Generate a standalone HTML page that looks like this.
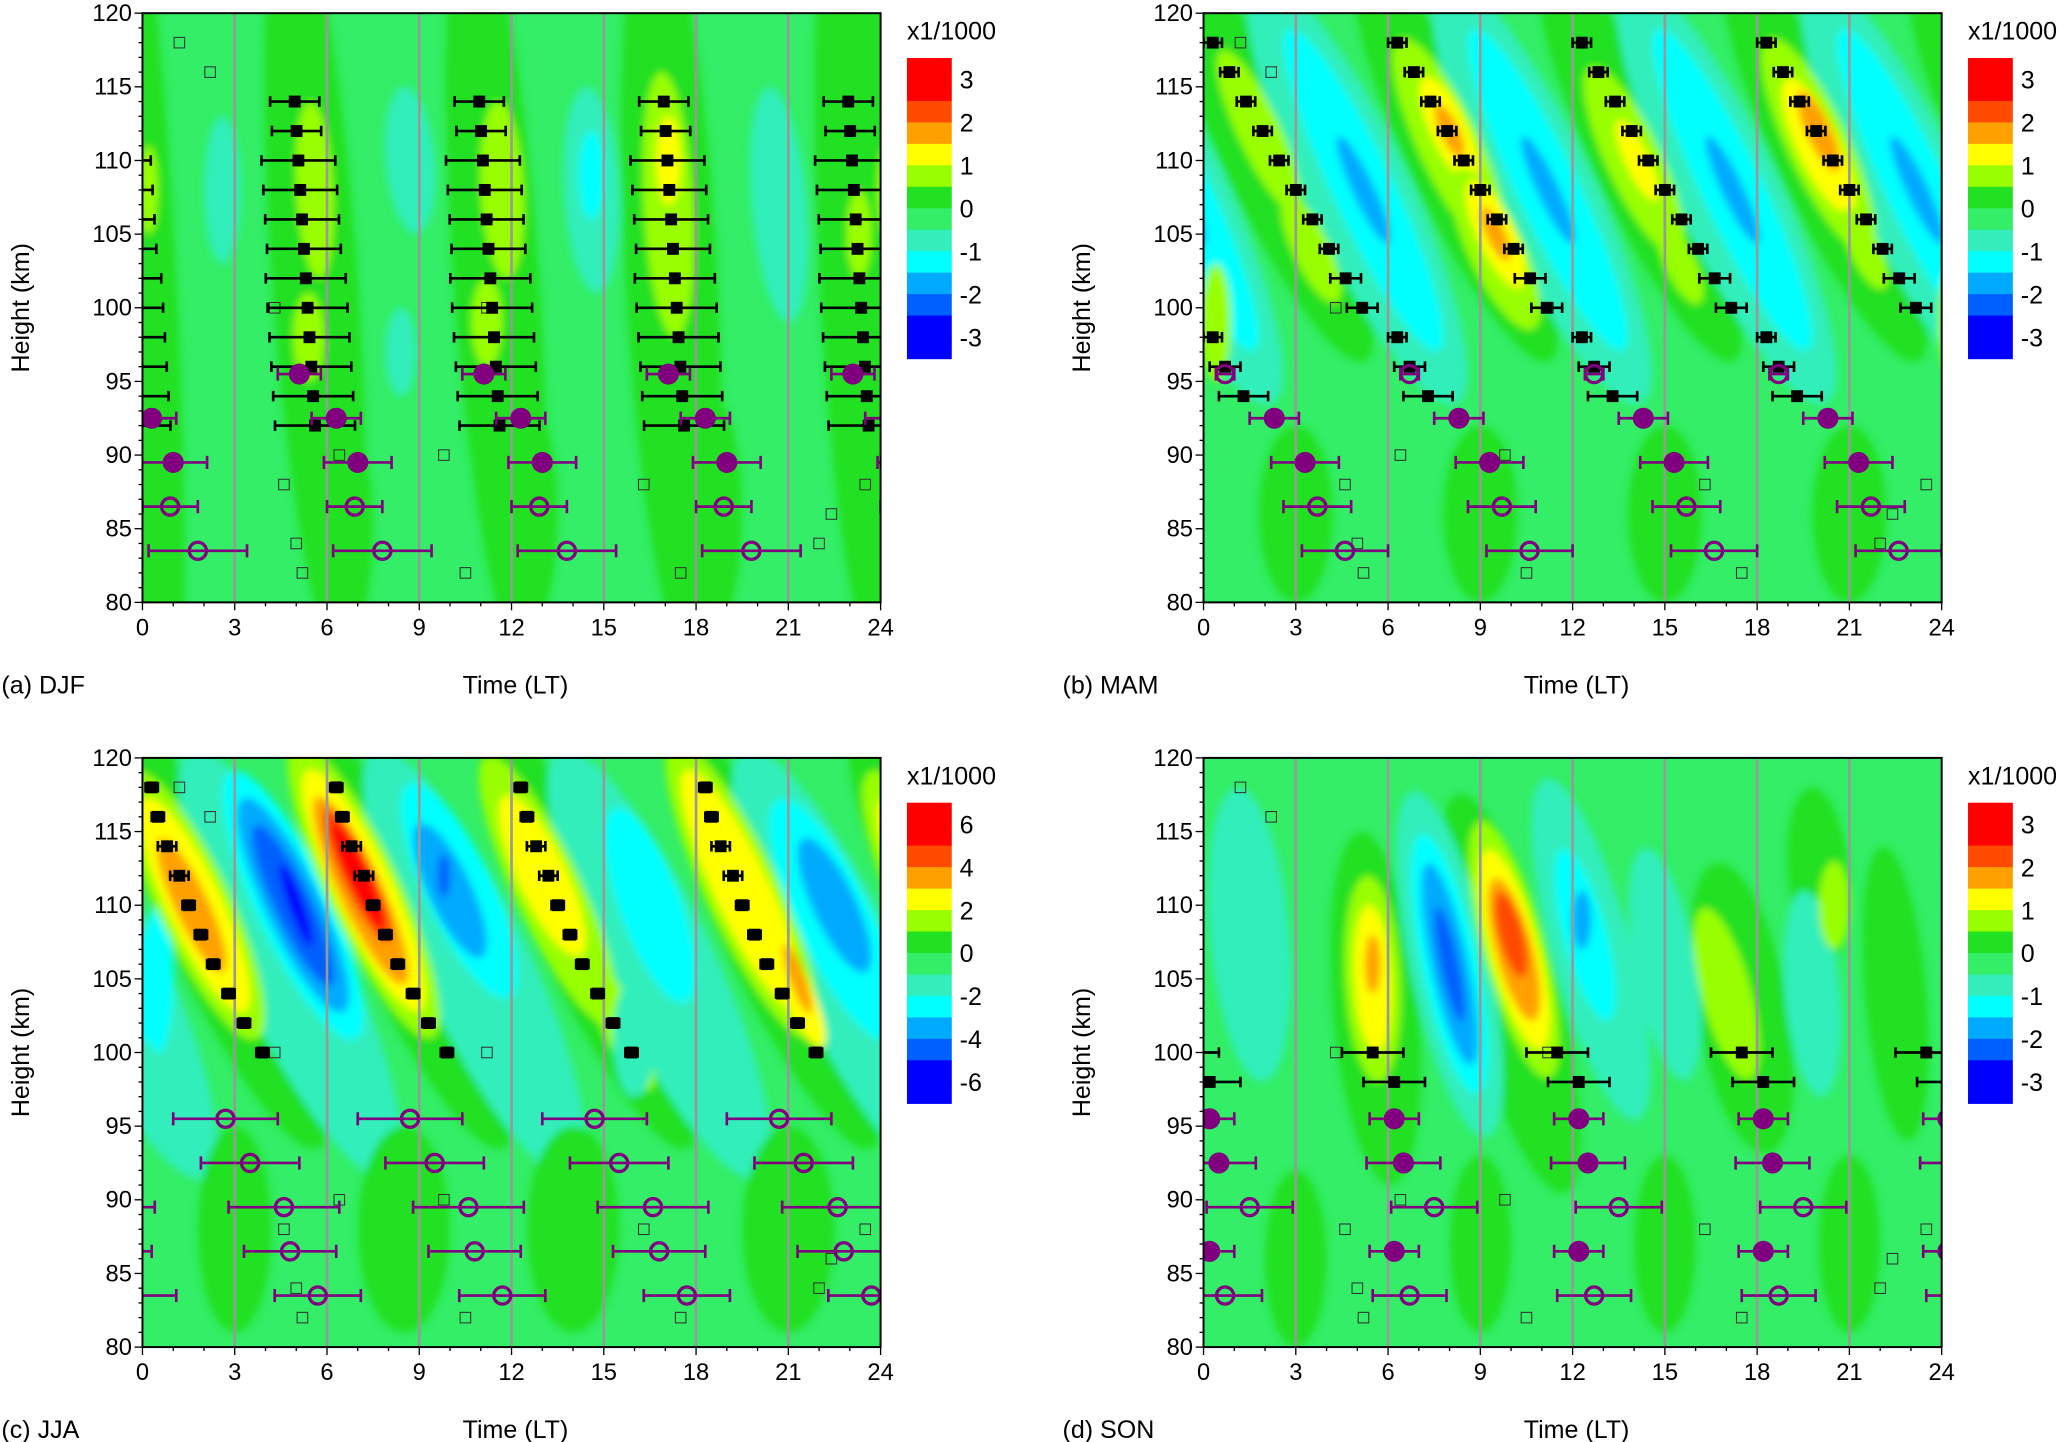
<!DOCTYPE html>
<html><head><meta charset="utf-8">
<style>
html,body{margin:0;padding:0;background:#fff;}
svg{display:block;font-family:"Liberation Sans",sans-serif;}
</style></head>
<body>
<svg id="s" width="2067" height="1442" viewBox="0 0 1568 1094" xmlns="http://www.w3.org/2000/svg">
<defs>
<filter id="bl" x="-50%" y="-50%" width="200%" height="200%"><feGaussianBlur stdDeviation="3"/></filter>
</defs>
</svg>
<script>
const S=document.getElementById('s');
const NS='http://www.w3.org/2000/svg';
function el(tag,attrs,parent,txt){const e=document.createElementNS(NS,tag);for(const k in attrs)e.setAttribute(k,attrs[k]);if(txt!==undefined)e.textContent=txt;(parent||S).appendChild(e);return e;}
const C={r:'#ff0000',ro:'#ff4a00',o:'#ffa000',y:'#ffff00',yg:'#99ff00',g:'#22e022',b:'#33ee66',a:'#33eebb',c:'#00ffff',lb:'#00aaff',bl:'#0060ff',db:'#0000ff'};
const bars=[C.r,C.r,C.ro,C.o,C.y,C.yg,C.g,C.b,C.a,C.c,C.lb,C.bl,C.db,C.db];
const panels=[
 {x:108,y:10,lab:'(a) DJF',ticks:['3','2','1','0','-1','-2','-3'],
  blobs:[
   ['g',0.2,102,0.9,30,-3],['g',5.6,102,1.4,26,-4],['g',11.5,102,1.4,26,-4],['g',17.2,102,1.5,26,-3],['g',23.2,102,1.2,26,-3],
   ['g',6.5,85,1.0,8,0],['g',12.5,86,1.0,8,0],['g',18.5,86,1.0,8,0],
   ['yg',5.6,108,0.6,6,-3],['yg',5.4,98,0.5,3,0],['yg',11.7,108,0.7,6,-3],['yg',11.2,99,0.5,3,0],['yg',17.1,107,0.8,9,-3],['y',17.1,110,0.4,3,0],['yg',23.3,105,0.4,3,0],['yg',0.2,108,0.3,3,0],
   ['a',2.6,108,0.6,5,0],['a',8.7,110,0.8,5,-5],['a',8.4,97,0.5,3,0],['a',14.6,108,0.9,7,-3],['c',14.6,109,0.4,3,0],['a',20.7,107,0.9,8,-5]]},
 {x:913,y:10,lab:'(b) MAM',ticks:['3','2','1','0','-1','-2','-3'],
  blobs:[]},
 {x:108,y:575,lab:'(c) JJA',ticks:['6','4','2','0','-2','-4','-6'],blobs:[]},
 {x:913,y:575,lab:'(d) SON',ticks:['3','2','1','0','-1','-2','-3'],
  blobs:[
   ['g',5.6,103,1.4,12,-5],['g',10,104,1.5,14,-15],['g',17.5,103,1.5,10,-10],['g',22.5,104,1.0,10,-5],['g',20,112,1.0,6,-5],
   ['g',3,86,1.0,6,0],['g',9,87,1.0,6,0],['g',15,87,1.0,6,0],['g',21,87,1.0,6,0],
   ['a',8,106,1.3,12,-12],['c',8,106,0.9,9,-12],['lb',8,106,0.6,7,-12],['bl',8,106,0.3,4,-12],
   ['yg',5.5,105,0.9,7,-3],['y',5.5,105,0.6,5,-3],['o',5.5,106,0.25,2,0],
   ['yg',10.1,107,1.0,9,-15],['y',10.1,107,0.8,7,-15],['o',10.1,107,0.6,5,-15],['ro',10,108,0.4,3,-15],
   ['a',12.6,107,1.3,12,-15],['c',12.4,108,0.7,6,-15],['lb',12.3,109,0.3,2,0],
   ['a',15,106,1.0,8,-10],['yg',17,104,0.8,6,-15],['a',19.8,104,0.9,7,-5],['yg',20.5,110,0.5,3,0],['a',1.5,108,1.3,10,-5]]}
];
for(let k=-1;k<5;k++){
 const t=k*6;
 panels[1].blobs.push(['g',t+2.2,110,1.5,15,-25],['a',t+5,108,1.7,16,-25],['c',t+5.2,108,1.0,12,-25],['lb',t+5.2,108,0.35,4,-25]);
}
panels[1].blobs.push(['yg',1.8,112,0.7,6,-25],['yg',3.5,104,0.6,4,-25],['y',0.3,99,0.3,2,0],['yg',0.4,99,0.5,4,0],
 ['yg',8,111,1.0,8,-25],['y',8,112,0.6,4,-25],['o',8,112,0.3,2,-25],['yg',9.5,104,0.9,6,-25],['y',9.5,105,0.6,4,-25],['o',9.5,105,0.3,2,-25],
 ['yg',14,110,0.9,7,-25],['y',14.1,110,0.4,3,-25],['yg',15.5,103,0.5,3,-25],
 ['yg',20,111,1.0,8,-25],['y',20,111,0.7,5,-25],['o',20,112,0.4,3,-25],['yg',21.5,104,0.5,3,-25],
 ['g',3,86,1.2,6,0],['g',9,86,1.2,6,0],['g',15,86,1.2,6,0],['g',21,86,1.2,6,0]);
for(let k=-1;k<5;k++){const t=k*6;panels[2].blobs.push(['g',t+2.5,108,1.6,16,-25],['a',t+4.8,106,1.8,16,-25]);}
panels[2].blobs.push(
 ['c',0.5,105,0.5,5,0],
 ['yg',1.7,110,1.2,10,-25],['y',1.7,110,0.9,8,-25],['o',1.6,110,0.55,5,-25],
 ['c',4.9,110,1.2,10,-25],['lb',4.9,110,0.9,8,-25],['bl',4.9,110,0.6,6,-25],['db',5,110,0.25,3,-20],
 ['yg',7.2,111,1.2,11,-25],['y',7.2,111,0.95,9,-25],['o',7.1,111,0.7,7,-25],['ro',7,112,0.5,5,-25],['r',7,112,0.35,4,-25],
 ['c',10.3,111,1.1,8,-25],['lb',10,111,0.7,5,-25],['bl',9.8,112,0.2,1.5,0],
 ['yg',13.2,111,1.1,10,-25],['y',13,112,0.8,6,-25],['yg',15.5,102,0.6,5,-25],
 ['c',16.5,110,1.0,7,-20],['a',16,101,0.7,4,0],
 ['yg',19.5,111,1.2,11,-25],['y',19.5,111,0.9,9,-25],['y',21.3,104,0.5,4,-25],['o',21.3,105,0.25,2.5,-20],
 ['c',22.5,109,1.2,9,-25],['lb',22.5,110,0.7,5,-25],
 ['g',3,88,1.2,7,0],['g',8.5,88,1.5,7,0],['g',14,88,1.5,7,0],['g',21,88,1.5,7,0]);

function per(list,k0,k1){const out=[];for(let k=k0;k<=k1;k++)for(const p of list)out.push([p[0]+6*k,...p.slice(1)]);return out;}
const sqA=[];for(let h=114;h>=92;h-=2){const t=5.3-0.35+(114-h)*0.03;sqA.push([t,h,h>=112?0.8:h>=104?1.2:1.3]);}
const sqB=[];for(let h=118;h>=100;h-=2){sqB.push([0.3+(118-h)*0.27,h,h>102?0.3:0.5]);}sqB.push([0.3,98,0.3],[0.7,96,0.5],[1.3,94,0.8]);
const sqC=[[0.3,118,0.2],[0.5,116,0.2],[0.8,114,0.3],[1.2,112,0.3],[1.5,110,0.2],[1.9,108,0.2],[2.3,106,0.2],[2.8,104,0.2],[3.3,102,0.2],[3.9,100,0.2]];
const sqD=[[5.5,100,1.0],[6.2,98,1.0]];
panels[0].sq=per(sqA,-1,3);panels[1].sq=per(sqB,0,3);panels[2].sq=per(sqC,0,3);panels[3].sq=per(sqD,-1,3);
panels[0].pc=per([[5.1,95.5,0.7,1],[6.3,92.5,0.8,1],[7,89.5,1.1,1],[6.9,86.5,0.9,0],[7.8,83.5,1.6,0]],-1,3);
panels[1].pc=per([[0.7,95.5,0.3,0],[2.3,92.5,0.8,1],[3.3,89.5,1.1,1],[3.7,86.5,1.1,0],[4.6,83.5,1.4,0]],0,3);
panels[2].pc=per([[2.7,95.5,1.7,0],[3.5,92.5,1.6,0],[4.6,89.5,1.8,0],[4.8,86.5,1.5,0],[5.7,83.5,1.4,0]],-1,3);
panels[3].pc=per([[0.2,95.5,0.8,1],[0.5,92.5,1.2,1],[1.5,89.5,1.4,0],[0.2,86.5,0.8,1],[0.7,83.5,1.2,0]],-1,4);
const hollow=[[1.2,118],[2.2,116],[4.3,100],[4.6,88],[5,84],[5.2,82],[6.4,90],[9.8,90],[10.5,82],[16.3,88],[22,84],[22.4,86],[11.2,100],[17.5,82],[23.5,88]];

const W=560,H=447,PW=W/24,PH=H/40;
panels.forEach((P,i)=>{
 const g=el('g',{transform:`translate(${P.x},${P.y})`});
 const cid='cp'+i;
 const cp=el('clipPath',{id:cid},g);el('rect',{x:0,y:0,width:W,height:H},cp);
 const pg=el('g',{'clip-path':`url(#${cid})`},g);
 el('rect',{x:0,y:0,width:W,height:H,fill:C.b},pg);
 const bg=el('g',{filter:'url(#bl)'},pg);
 const X=t=>t*PW,Y=h=>(120-h)*PH;
 P.blobs.forEach(b=>{
  for(const dx of [-24,0,24]){
   const cx=X(b[1]+dx),cy=Y(b[2]);
   if(cx<-200||cx>W+200)continue;
   el('ellipse',{cx,cy,rx:b[3]*PW,ry:b[4]*PH,fill:C[b[0]],transform:`rotate(${b[5]} ${cx} ${cy})`},bg);
  }
 });
 hollow.forEach(p=>el('rect',{x:X(p[0])-4,y:Y(p[1])-4,width:8,height:8,fill:'none',stroke:'#333','stroke-width':0.8},pg));
 for(let t=3;t<24;t+=3)el('line',{x1:X(t),x2:X(t),y1:0,y2:H,stroke:'#999','stroke-width':2},pg);
 P.sq.forEach(p=>{const x=X(p[0]),y=Y(p[1]),e=p[2]*PW;
  el('path',{d:`M${x-e} ${y}H${x+e}M${x-e} ${y-4}V${y+4}M${x+e} ${y-4}V${y+4}`,stroke:'#000','stroke-width':2,fill:'none'},pg);
  el('rect',{x:x-4.5,y:y-4.5,width:9,height:9,fill:'#000'},pg);});
 P.pc.forEach(p=>{const x=X(p[0]),y=Y(p[1]),e=p[2]*PW;
  el('path',{d:`M${x-e} ${y}H${x+e}M${x-e} ${y-5}V${y+5}M${x+e} ${y-5}V${y+5}`,stroke:'#800080','stroke-width':2,fill:'none'},pg);
  if(p[3])el('circle',{cx:x,cy:y,r:8,fill:'#800080'},pg);
  else el('circle',{cx:x,cy:y,r:6.5,fill:'none',stroke:'#800080','stroke-width':2.5},pg);});
 el('rect',{x:0,y:0,width:W,height:H,fill:'none',stroke:'#000','stroke-width':1.5},g);
 for(let h=80;h<=120;h++){const y=Y(h);const L=h%5==0?6:3;el('line',{x1:-L,x2:0,y1:y,y2:y,stroke:'#000','stroke-width':1},g);
  if(h%5==0)el('text',{x:-8,y:y+6,'text-anchor':'end','font-size':18},g,String(h));}
 for(let t=0;t<=24;t++){const x=X(t);const L=t%3==0?6:3;el('line',{x1:x,x2:x,y1:H,y2:H+L,stroke:'#000','stroke-width':1},g);
  if(t%3==0)el('text',{x:x,y:H+25,'text-anchor':'middle','font-size':18},g,String(t));}
 el('text',{x:-107,y:H+69,'font-size':19},g,P.lab);
 el('text',{x:W/2+3,y:H+69,'text-anchor':'middle','font-size':19},g,'Time (LT)');
 el('text',{transform:`translate(-86 ${H/2}) rotate(-90)`,'text-anchor':'middle','font-size':19},g,'Height (km)');
 const cx=W+20,cy=34,ch=228,ss=ch/14;
 bars.forEach((c,j)=>el('rect',{x:cx,y:cy+j*ss,width:34,height:ss+0.5,fill:c},g));
 el('text',{x:cx,y:20,'font-size':19},g,'x1/1000');
 P.ticks.forEach((t,j)=>el('text',{x:cx+40,y:cy+ss*(1+2*j)+7,'font-size':19},g,t));
});
</script>
</body></html>
